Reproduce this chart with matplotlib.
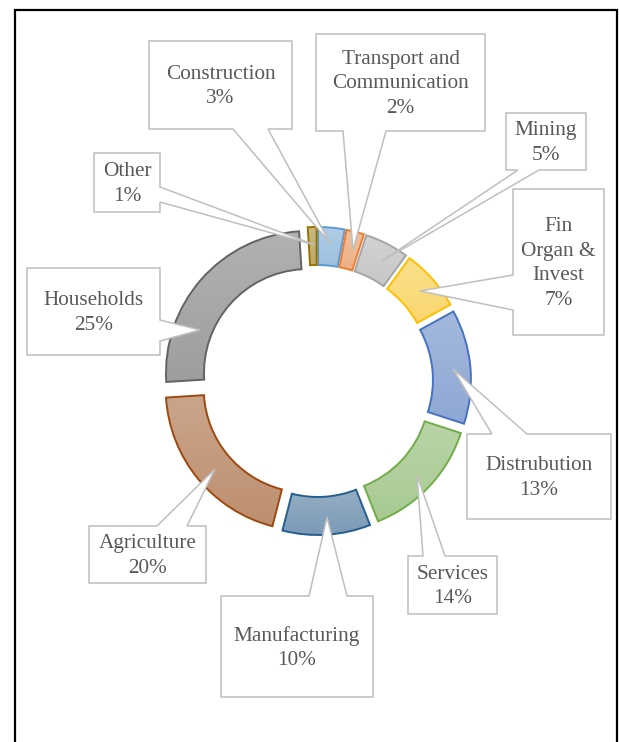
import numpy as np
import matplotlib
matplotlib.use("Agg")
import matplotlib.pyplot as plt
from matplotlib.patches import Polygon, Rectangle
from matplotlib.colors import to_rgb

plt.rcParams['font.family'] = ['Liberation Serif', 'DejaVu Serif']

# datos del grafico
sectors = ["Construction", "Transport and\nCommunication", "Mining", "Fin\nOrgan &\nInvest",
           "Distrubution", "Services", "Manufacturing", "Agriculture", "Households", "Other"]
shares = [3, 2, 5, 7, 13, 14, 10, 20, 25, 1]
base_colors = ["#5B9BD5", "#ED7D31", "#A5A5A5", "#FFC000", "#4472C4", "#70AD47",
               "#255E91", "#9E480E", "#636363", "#997300"]

W, H = 619, 742

# posicion de las etiquetas en pixeles de la imagen (y hacia abajo):
# caja (x0, y0, x1, y1), lado del puntero, base del puntero, punta
callouts = [
    ((149, 41, 292, 129), "bottom", (233, 268), (330, 243)),
    ((316, 34, 485, 131), "bottom", (343, 386), (353, 250)),
    ((506, 113, 586, 170), "bottom", (518, 539), (382, 261)),
    ((513, 189, 604, 335), "left", (275, 310), (420, 291)),
    ((467, 434, 611, 519), "top", (492, 527), (453, 369)),
    ((408, 556, 497, 614), "top", (423, 445), (417, 475)),
    ((221, 596, 373, 697), "top", (309, 347), (327, 517)),
    ((89, 526, 206, 583), "top", (157, 187), (215, 469)),
    ((27, 268, 160, 355), "right", (320, 341), (200, 330)),
    ((94, 153, 160, 212), "right", (187, 202), (315, 245)),
]


def mezclar(color, f, gris=0.12):
    # aclarar hacia blanco y quitar un poco de saturacion
    c = np.array(to_rgb(color))
    c = c + (1 - c) * f
    lum = 0.299 * c[0] + 0.587 * c[1] + 0.114 * c[2]
    return c * (1 - gris) + lum * gris


def forma_callout(caja, lado, base, punta):
    x0, y0, x1, y1 = caja
    b1, b2 = base
    pts = [(x0, y0)]
    if lado == "top":
        pts += [(b1, y0), punta, (b2, y0)]
    pts.append((x1, y0))
    if lado == "right":
        pts += [(x1, b1), punta, (x1, b2)]
    pts.append((x1, y1))
    if lado == "bottom":
        pts += [(b2, y1), punta, (b1, y1)]
    pts.append((x0, y1))
    if lado == "left":
        pts += [(x0, b2), punta, (x0, b1)]
    return [(px, H - py) for px, py in pts]


fig = plt.figure(figsize=(W / 100, H / 100), dpi=100)
ax = fig.add_axes([0, 0, 1, 1])

wedges, _ = ax.pie(shares, radius=142, center=(317, H - 381), startangle=90,
                   counterclock=False, explode=[12] * len(shares), colors=base_colors,
                   wedgeprops=dict(width=38, linewidth=1.4))

# relleno degradado dentro de cada sector
for w, col in zip(wedges, base_colors):
    w.set_facecolor("none")
    w.set_edgecolor(col)
    w.set_zorder(2)
    bb = w.get_path().get_extents()
    t = np.linspace(0, 1, 64)[:, None, None]
    grad = mezclar(col, 0.38)[None, None, :] * (1 - t) + mezclar(col, 0.50)[None, None, :] * t
    grad = np.clip(np.repeat(grad, 2, axis=1), 0, 1)
    im = ax.imshow(grad, extent=[bb.x0, bb.x1, bb.y0, bb.y1], origin="lower",
                   aspect="auto", zorder=1, interpolation="bilinear")
    im.set_clip_path(w)

total = sum(shares)
for name, val, (caja, lado, base, punta) in zip(sectors, shares, callouts):
    poly = Polygon(forma_callout(caja, lado, base, punta), closed=True, facecolor="white",
                   edgecolor="#BFBFBF", linewidth=1.1, zorder=3)
    ax.add_patch(poly)
    cx = (caja[0] + caja[2]) / 2
    cy = (caja[1] + caja[3]) / 2 + 1.5
    ax.text(cx, H - cy, f"{name}\n{round(val / total * 100)}%", ha="center", va="center",
            fontsize=15.3, color="#595959", zorder=4, linespacing=1.42)

# marco del area del grafico
ax.add_patch(Rectangle((15, -20), 602, H - 10 + 20, fill=False, edgecolor="black",
                       linewidth=1.6, zorder=5))

ax.set_xlim(0, W)
ax.set_ylim(0, H)
ax.axis("off")

fig.savefig("out.png", dpi=100)
